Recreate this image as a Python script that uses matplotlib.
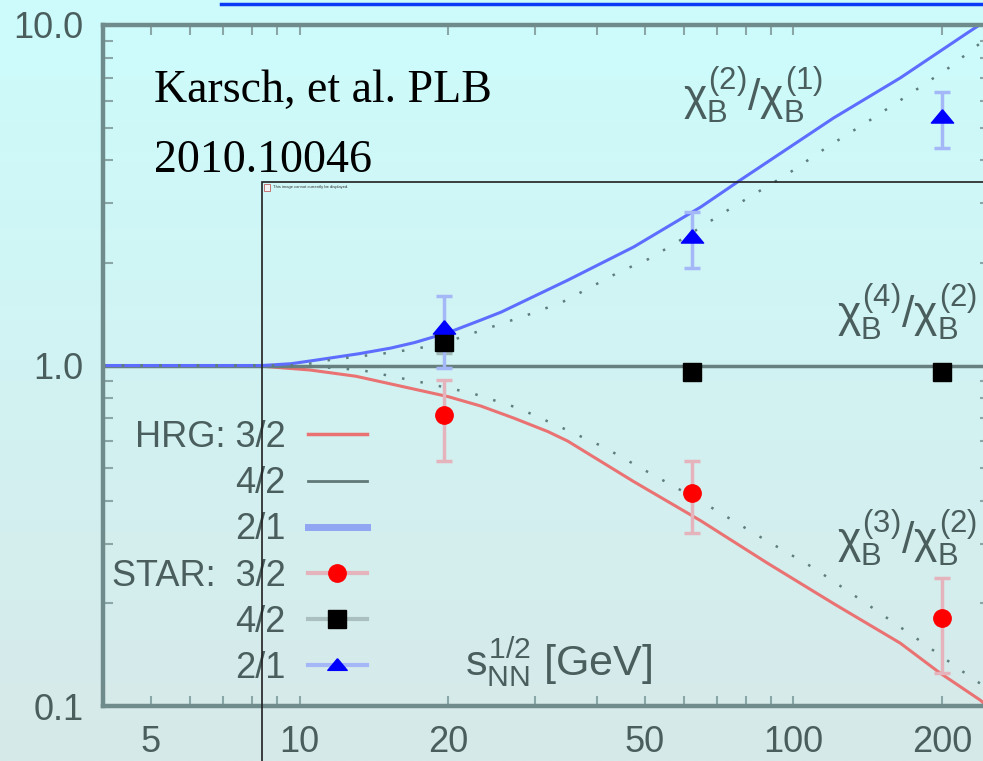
import numpy as np
import matplotlib.pyplot as plt
from matplotlib.lines import Line2D
from matplotlib.patches import Rectangle
from matplotlib.colors import LinearSegmentedColormap
from matplotlib.ticker import FixedLocator, LogLocator, NullFormatter

plt.rcParams['font.family'] = ['Liberation Sans', 'DejaVu Sans']
plt.rcParams['mathtext.fontset'] = 'custom'
plt.rcParams['mathtext.rm'] = 'Liberation Sans'
plt.rcParams['mathtext.it'] = 'Liberation Sans'
plt.rcParams['mathtext.bf'] = 'Liberation Sans:bold'

# HRG curves vs sqrt(s_NN) [GeV]
hrg_x_21 = [4.0, 8.4, 9.6, 10.7, 13.2, 15.3, 17.1, 18.5, 20.6, 23.3, 25.6, 34.9, 47.5, 64.9,
            78.2, 120.5, 164.5, 225.0, 238.0]
hrg_21 = [1.0, 1.0, 1.012, 1.035, 1.083, 1.125, 1.168, 1.208, 1.27, 1.36, 1.435, 1.78, 2.23, 2.92,
          3.51, 5.33, 6.99, 9.48, 10.0]

hrg_x_32 = [4.0, 8.4, 10.5, 13.0, 16.3, 20.0, 23.3, 27.2, 31.8, 34.9, 47.5, 64.9, 88.5, 120.5,
            164.5, 198.0, 239.0, 250.0]
hrg_32 = [1.0, 0.995, 0.97, 0.93, 0.865, 0.81, 0.76, 0.70, 0.64, 0.60, 0.456, 0.35, 0.263, 0.20,
          0.153, 0.125, 0.104, 0.098]

hrg_x_42 = [4.0, 250.0]
hrg_42 = [1.0, 1.0]

# second HRG variant (dotted)
alt_x_21 = [4.0, 10.0, 11.6, 15.6, 19.1, 22.5, 25.9, 29.7, 34.1, 38.9, 44.3, 50.9, 57.8, 72.2,
            97.3, 117.0, 141.0, 172.0, 207.5, 239.0, 250.0]
alt_21 = [1.0, 1.0, 1.04, 1.095, 1.15, 1.246, 1.333, 1.426, 1.537, 1.70, 1.88, 2.055, 2.29, 2.81,
          3.65, 4.38, 5.19, 6.27, 7.53, 8.85, 9.2]

alt_x_32 = [4.0, 10.0, 13.3, 17.9, 22.3, 27.7, 34.1, 41.3, 50.7, 65.8, 84.9, 109.8, 141.8, 182.0,
            233.0, 250.0]
alt_32 = [1.0, 1.0, 0.97, 0.889, 0.83, 0.75, 0.655, 0.576, 0.487, 0.395, 0.316, 0.2545, 0.198,
          0.154, 0.119, 0.112]

# STAR net-proton data
star_x = [19.6, 62.4, 200.0]
star_32 = [0.716, 0.423, 0.181]
star_32_err = [0.19, 0.10, 0.056]
star_42 = [1.17, 0.96, 0.96]
star_42_err = [0.08, 0.03, 0.03]
star_21 = [1.29, 2.38, 5.36]
star_21_err = [0.31, 0.45, 1.0]

xticks = [5, 10, 20, 50, 100, 200]
xticklabels = ['5', '10', '20', '50', '100', '200']
yticks = [0.1, 1.0, 10.0]
yticklabels = ['0.1', '1.0', '10.0']

legend_labels = ['HRG: 3/2', '4/2', '2/1', 'STAR:  3/2', '4/2', '2/1']

W, H = 983, 761
axis_col = '#6f8b8b'
text_col = '#4a5e5e'
tri = [(0, 0.7), (-1, -0.5), (1, -0.5), (0, 0.7)]

fig = plt.figure(figsize=(W / 100, H / 100), dpi=100)

# slide background
bg = fig.add_axes([0, 0, 1, 1], zorder=-10)
grad = np.linspace(0, 1, 256)[:, None]
bg.imshow(grad, aspect='auto', extent=[0, 1, 0, 1],
          cmap=LinearSegmentedColormap.from_list('bg', ['#cdfcfc', '#d7e9e9']))
bg.axis('off')

ax = fig.add_axes([103 / W, (H - 706) / H, 887 / W, 681 / H])
ax.set_facecolor('none')
ax.set_xscale('log')
ax.set_yscale('log')
ax.set_xlim(4, 250)
ax.set_ylim(0.1, 10)

ax.plot(hrg_x_32, hrg_32, color='#ea7272', lw=2.2, zorder=2)
ax.plot(hrg_x_42, hrg_42, color='#687f7f', lw=2.5, zorder=2)
ax.plot(hrg_x_21, hrg_21, color='#5d6dff', lw=2.2, zorder=2)
ax.plot(alt_x_21, alt_21, color='#5f7d7d', lw=1.8, ls=(0, (1, 6.5)), zorder=2)
ax.plot(alt_x_32, alt_32, color='#5f7d7d', lw=1.8, ls=(0, (1, 6.5)), zorder=2)

ax.errorbar(star_x, star_32, yerr=star_32_err, fmt='o', color='#ff0000', ms=12.5,
            ecolor='#e5b3bb', elinewidth=2.5, capsize=6, capthick=2.5, zorder=5)
ax.errorbar(star_x, star_42, yerr=star_42_err, fmt='s', color='black', ms=13,
            ecolor='#a0b8b8', elinewidth=2.5, capsize=6, capthick=2.5, zorder=5)
ax.errorbar(star_x, star_21, yerr=star_21_err, fmt='none', ecolor='#a4b8f8',
            elinewidth=2.5, capsize=6, capthick=2.5, zorder=5)
ax.plot(star_x, star_21, ls='none', marker=tri, ms=16, color='#0000ff', zorder=6)

for s in ax.spines.values():
    s.set_color(axis_col)
    s.set_linewidth(3.2)

ax.xaxis.set_major_locator(FixedLocator(xticks))
ax.set_xticklabels(xticklabels)
ax.yaxis.set_major_locator(FixedLocator(yticks))
ax.set_yticklabels(yticklabels)
ax.xaxis.set_minor_locator(LogLocator(base=10, subs=np.arange(2, 10), numticks=20))
ax.yaxis.set_minor_locator(LogLocator(base=10, subs=np.arange(2, 10), numticks=20))
ax.xaxis.set_minor_formatter(NullFormatter())
ax.yaxis.set_minor_formatter(NullFormatter())
ax.tick_params(which='both', direction='in', top=True, right=True, length=7,
               width=1.5, color='#8aa6a6', labelsize=26, labelcolor=text_col)
ax.tick_params(axis='x', which='both', pad=14)
ax.tick_params(axis='y', which='both', pad=14)

# curve labels
ax.text(59.8, 6.21, r'$\chi_B^{(2)}/\chi_B^{(1)}$', fontsize=32, color=text_col,
        ha='left', va='center')
ax.text(122.5, 1.436, r'$\chi_B^{(4)}/\chi_B^{(2)}$', fontsize=32, color=text_col,
        ha='left', va='center')
ax.text(122.5, 0.311, r'$\chi_B^{(3)}/\chi_B^{(2)}$', fontsize=32, color=text_col,
        ha='left', va='center')
ax.text(21.6, 0.1346, r'$s_{NN}^{1/2}$ [GeV]', fontsize=31, color=text_col,
        ha='left', va='center')

handles = [
    Line2D([], [], color='#ea7272', lw=2.5),
    Line2D([], [], color='#607878', lw=2),
    Line2D([], [], color='#90a6f2', lw=5),
    Line2D([], [], color='#e5b3bb', lw=3, marker='o', ms=12.5, mfc='#ff0000', mec='#ff0000'),
    Line2D([], [], color='#aac0c0', lw=3, marker='s', ms=13, mfc='black', mec='black'),
    Line2D([], [], color='#a4b8f8', lw=3, marker=tri, ms=14, mfc='#0000ff', mec='#0000ff'),
]
leg = ax.legend(handles, legend_labels, loc='upper left', bbox_to_anchor=(0.0101, 0.42),
                frameon=False, markerfirst=False, fontsize=26, handlelength=1.66,
                handletextpad=0.6, labelspacing=0.31, borderpad=0, borderaxespad=0)
for t in leg.get_texts():
    t.set_color(text_col)

# slide decorations
fig.add_artist(Line2D([221 / W, 1], [1 - 4 / H, 1 - 4 / H], color='#0a3af5', lw=2.5,
                      transform=fig.transFigure))
fig.text(154 / W, 1 - 102 / H, 'Karsch, et al. PLB', fontfamily='Liberation Serif',
         fontsize=33, color='black', va='baseline')
fig.text(154 / W, 1 - 172 / H, '2010.10046', fontfamily='Liberation Serif',
         fontsize=33, color='black', va='baseline')

fig.add_artist(Rectangle((262 / W, -0.1), 1.0, (1 - 182 / H) + 0.1, transform=fig.transFigure,
                         fill=False, ec='#202020', lw=1.2, clip_on=False))
fig.add_artist(Rectangle((264 / W, 1 - 191 / H), 6 / W, 7 / H, transform=fig.transFigure,
                         fc='#f4f4f4', ec='#c06060', lw=0.6))
fig.text(273 / W, 1 - 187 / H, 'This image cannot currently be displayed.', fontsize=3,
         color='#333333', va='center')

fig.savefig('out.png', dpi=100)
